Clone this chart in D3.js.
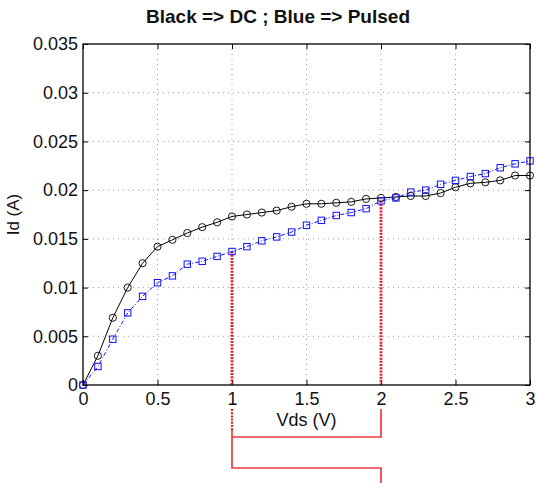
<!DOCTYPE html>
<html>
<head>
<meta charset="utf-8">
<script src="https://cdn.jsdelivr.net/npm/d3@7"></script>
<style>
    body { margin: 0; background: #fff; }
    svg { display: block; }
</style>
</head>
<body>
<svg id="iv" width="536" height="483"></svg>
<script>
// Vds sweep (V)
var vds = [0, 0.1, 0.2, 0.3, 0.4, 0.5, 0.6, 0.7, 0.8, 0.9, 1.0,
    1.1, 1.2, 1.3, 1.4, 1.5, 1.6, 1.7, 1.8, 1.9, 2.0,
    2.1, 2.2, 2.3, 2.4, 2.5, 2.6, 2.7, 2.8, 2.9, 3.0];

// Id (A), DC measurement (black)
var idDC = [0, 0.0030, 0.0069, 0.0100, 0.0125, 0.0142, 0.0149, 0.0156, 0.0162, 0.0167, 0.0173,
    0.0175, 0.0177, 0.0179, 0.0183, 0.0186, 0.0186, 0.0187, 0.0188, 0.0191, 0.0192,
    0.0193, 0.0194, 0.0194, 0.0197, 0.0203, 0.0207, 0.0208, 0.0210, 0.0215, 0.0215];

// Id (A), pulsed measurement (blue)
var idPulsed = [0, 0.0019, 0.0047, 0.0074, 0.0091, 0.0105, 0.0112, 0.0124, 0.0127, 0.0132, 0.0137,
    0.0142, 0.0148, 0.0152, 0.0157, 0.0164, 0.0169, 0.0174, 0.0177, 0.0181, 0.0189,
    0.0192, 0.0198, 0.0200, 0.0206, 0.0210, 0.0214, 0.0217, 0.0223, 0.0227, 0.0230];

var xTicks = [0, 0.5, 1, 1.5, 2, 2.5, 3];
var yTicks = [0, 0.005, 0.01, 0.015, 0.02, 0.025, 0.03, 0.035];

// Vds values where the red markers are dropped
var markVds = [1, 2];

var svg = d3.select("svg#iv"),
    margin = { top: 44, right: 6, bottom: 98, left: 83 },
    width = svg.attr("width") - margin.left - margin.right,
    height = svg.attr("height") - margin.top - margin.bottom,
    g = svg.append("g")
        .attr("transform", "translate(" + margin.left + "," + margin.top + ")");

var font = "'Liberation Sans', Arial, Helvetica, sans-serif";

var x = d3.scaleLinear().domain([0, 3]).range([0, width]);
var y = d3.scaleLinear().domain([0, 0.035]).range([height, 0]);

// grid
g.append("g")
    .selectAll("line")
    .data(xTicks.slice(1, -1))
    .enter()
    .append("line")
    .attr("x1", d => x(d)).attr("x2", d => x(d))
    .attr("y1", 0).attr("y2", height)
    .attr("stroke", "#9a9a9a")
    .attr("stroke-width", 1)
    .attr("stroke-dasharray", "1,4");

g.append("g")
    .selectAll("line")
    .data(yTicks.slice(1, -1))
    .enter()
    .append("line")
    .attr("x1", 0).attr("x2", width)
    .attr("y1", d => y(d)).attr("y2", d => y(d))
    .attr("stroke", "#9a9a9a")
    .attr("stroke-width", 1)
    .attr("stroke-dasharray", "1,4");

// axes (ticks pointing inward, box on)
function styleAxis(sel) {
    sel.select(".domain").remove();
    sel.selectAll("line").attr("stroke", "#000");
    sel.selectAll("text")
        .attr("font-family", font)
        .attr("font-size", "18px")
        .attr("fill", "#111");
}

g.append("g")
    .attr("transform", "translate(0," + height + ")")
    .call(d3.axisBottom(x).tickValues(xTicks).tickSizeInner(-5).tickSizeOuter(0)
        .tickPadding(7).tickFormat(d3.format("")))
    .call(styleAxis);

g.append("g")
    .call(d3.axisTop(x).tickValues(xTicks).tickSizeInner(-5).tickSizeOuter(0).tickFormat(""))
    .call(styleAxis);

g.append("g")
    .call(d3.axisLeft(y).tickValues(yTicks).tickSizeInner(-5).tickSizeOuter(0)
        .tickPadding(5).tickFormat(d3.format("")))
    .call(styleAxis);

g.append("g")
    .attr("transform", "translate(" + width + ",0)")
    .call(d3.axisRight(y).tickValues(yTicks).tickSizeInner(-5).tickSizeOuter(0).tickFormat(""))
    .call(styleAxis);

// red drop markers at Vds = 1 and 2
var red = g.append("g").attr("class", "marks");

red.selectAll("line.drop")
    .data(markVds)
    .enter()
    .append("line")
    .attr("class", "drop")
    .attr("x1", d => x(d)).attr("x2", d => x(d))
    .attr("y1", d => y(idPulsed[vds.indexOf(d)]))
    .attr("y2", height)
    .attr("stroke", "#e41a24")
    .attr("stroke-width", 2.8)
    .attr("stroke-dasharray", "2,1.2");

// below-axis bracket
var b1 = height + 24, b2 = height + 45, b3 = height + 52, b4 = height + 83;
red.append("line")
    .attr("x1", x(1)).attr("x2", x(1))
    .attr("y1", b1).attr("y2", b2)
    .attr("stroke", "#e41a24")
    .attr("stroke-width", 2.2)
    .attr("stroke-dasharray", "2,1.2");

red.append("path")
    .attr("d",
        "M" + x(1) + "," + b2 + "V" + b4 + "H" + x(2) + "V" + (height + margin.bottom) +
        "M" + x(1) + "," + b3 + "H" + x(2) + "V" + b1)
    .attr("fill", "none")
    .attr("stroke", "#ee3a40")
    .attr("stroke-width", 1.7);

// curves
var line = d3.line()
    .x((d, i) => x(vds[i]))
    .y(d => y(d));

g.append("path")
    .datum(idDC)
    .attr("d", line)
    .attr("fill", "none")
    .attr("stroke", "#000")
    .attr("stroke-width", 1);

g.append("path")
    .datum(idPulsed)
    .attr("d", line)
    .attr("fill", "none")
    .attr("stroke", "#1010ff")
    .attr("stroke-width", 1)
    .attr("stroke-dasharray", "4,2,1,2");

g.append("g")
    .selectAll("circle")
    .data(idDC)
    .enter()
    .append("circle")
    .attr("cx", (d, i) => x(vds[i]))
    .attr("cy", d => y(d))
    .attr("r", 3.6)
    .attr("fill", "none")
    .attr("stroke", "#000")
    .attr("stroke-width", 0.9);

g.append("g")
    .selectAll("rect")
    .data(idPulsed)
    .enter()
    .append("rect")
    .attr("x", (d, i) => x(vds[i]) - 3.2)
    .attr("y", d => y(d) - 3.2)
    .attr("width", 6.4)
    .attr("height", 6.4)
    .attr("fill", "none")
    .attr("stroke", "#1010ff")
    .attr("stroke-width", 1);

// frame
g.append("rect")
    .attr("width", width)
    .attr("height", height)
    .attr("fill", "none")
    .attr("stroke", "#000")
    .attr("stroke-width", 1.3);

// labels
g.append("text")
    .attr("x", width / 2)
    .attr("y", height + 41)
    .attr("text-anchor", "middle")
    .attr("font-family", font)
    .attr("font-size", "18px")
    .attr("fill", "#111")
    .text("Vds (V)");

g.append("text")
    .attr("transform", "translate(" + (-64) + "," + (height / 2) + ") rotate(-90)")
    .attr("text-anchor", "middle")
    .attr("font-family", font)
    .attr("font-size", "17px")
    .attr("fill", "#111")
    .text("Id (A)");

svg.append("text")
    .attr("x", 278)
    .attr("y", 23)
    .attr("text-anchor", "middle")
    .attr("font-family", font)
    .attr("font-size", "19px")
    .attr("font-weight", "bold")
    .attr("fill", "#111")
    .text("Black => DC ; Blue => Pulsed");
</script>
</body>
</html>
